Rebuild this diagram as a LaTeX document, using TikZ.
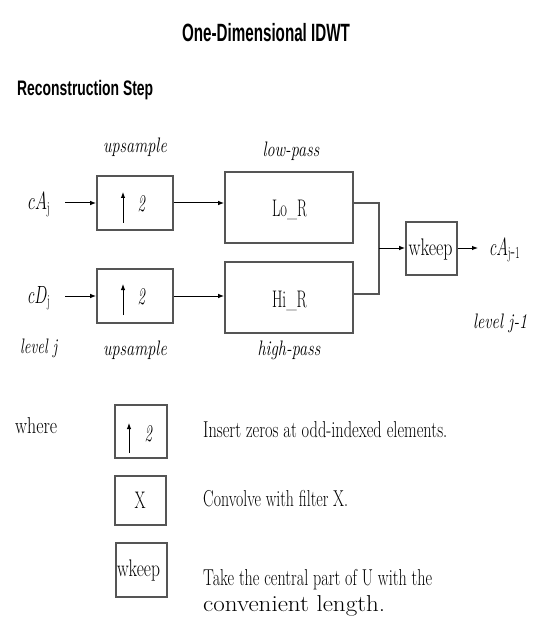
\documentclass[tikz,border=0pt]{standalone}
\usepackage{graphicx}
\usepackage{fontspec}
\newfontfamily\headfont{Liberation Sans}
\usetikzlibrary{arrows.meta}
% set a text to a given width, keeping its natural height
\newcommand{\fw}[2]{\resizebox{#1pt}{\height}{#2}}
\definecolor{boxgray}{HTML}{555555}
\tikzset{
  blk/.style={draw=boxgray, line width=1.6pt, rectangle, inner sep=0pt},
  arr/.style={-{Latex[length=6pt,width=4.5pt]}, line width=1pt, black},
  joinline/.style={draw=boxgray, line width=1.6pt},
  txt/.style={inner sep=0pt, font=\fontsize{21}{25}\selectfont},
  desc/.style={inner sep=0pt, font=\fontsize{23}{27}\selectfont},
  big/.style={inner sep=0pt, font=\fontsize{24}{28}\selectfont},
}
\begin{document}
\begin{tikzpicture}[x=1pt, y=-1pt]
\useasboundingbox (0,0) rectangle (532,617);

% headings
\node[inner sep=0pt, font=\headfont\bfseries\fontsize{25}{30}\selectfont] (title) at (266,33) {\fw{168}{One-Dimensional IDWT}};
\node[inner sep=0pt, anchor=west, font=\headfont\bfseries\fontsize{21}{25}\selectfont] (sub) at (17,90) {\fw{136}{Reconstruction Step}};

% blocks
\node[blk, minimum width=76pt, minimum height=54pt] (u1) at (135,203) {};
\node[blk, minimum width=76pt, minimum height=54pt] (u2) at (135,296) {};
\node[blk, minimum width=128pt, minimum height=71pt] (lo) at (289,207.5) {};
\node[blk, minimum width=128pt, minimum height=71pt] (hi) at (289,297.5) {};
\node[blk, minimum width=51pt, minimum height=53pt] (wk) at (431.5,248.5) {};

% block contents
\node[big, anchor=base] (u1n) at (141.5,212) {\fw{8}{\textit{2}}};
\node[big, anchor=base] (u2n) at (141.5,304) {\fw{8}{\textit{2}}};
\coordinate (u1a) at (123,223);
\coordinate (u1b) at (123,192);
\coordinate (u2a) at (123,315);
\coordinate (u2b) at (123,284);
\draw[arr] (u1a) -- (u1b);
\draw[arr] (u2a) -- (u2b);
\node[big, anchor=base] (lon) at (289.5,217) {\fw{35}{Lo\_R}};
\node[big, anchor=base] (hin) at (289.5,307) {\fw{35}{Hi\_R}};
\node[big, anchor=base] (wkn) at (430.5,256) {\fw{44}{wkeep}};

% signals
\node[big, anchor=base west] (ca) at (28,210) {\fw{22}{$cA_{\mathrm{j}}$}};
\node[big, anchor=base west] (cd) at (28,303) {\fw{22}{$cD_{\mathrm{j}}$}};
\node[big, anchor=base west] (cout) at (490,255) {\fw{30}{$cA_{\mathrm{j\mbox{-}1}}$}};
\coordinate (ain) at (65,203);
\coordinate (din) at (65,296);
\coordinate (oend) at (478,248);
\coordinate (ja) at (379,203);
\coordinate (jb) at (379,294);
\coordinate (jm) at (379,248);

\draw[arr] (ain) -- (u1.west |- ain);
\draw[arr] (din) -- (u2.west |- din);
\draw[arr] (u1.east |- ain) -- (lo.west |- ain);
\draw[arr] (u2.east |- din) -- (hi.west |- din);
\draw[joinline] (lo.east |- ja) -- (ja) -- (jb) -- (hi.east |- jb);
\draw[arr] (jm) -- (wk.west |- jm);
\draw[arr] (wk.east |- jm) -- (oend);

% stage labels
\node[txt, anchor=base] (l1) at (135,153) {\fw{64}{\textit{upsample}}};
\node[txt, anchor=base] (l2) at (291,157) {\fw{57}{\textit{low-pass}}};
\node[txt, anchor=base] (l3) at (135,355) {\fw{64}{\textit{upsample}}};
\node[txt, anchor=base] (l4) at (289,355) {\fw{63}{\textit{high-pass}}};
\node[txt, anchor=base west] (l5) at (20,353) {\fw{38}{\textit{level j}}};
\node[txt, anchor=base west] (l6) at (473,328) {\fw{54}{\textit{level j-1}}};

% legend
\node[desc, anchor=base west] (where) at (15,433) {\fw{42}{where}};
\node[blk, minimum width=52pt, minimum height=53pt] (g1) at (141,431.5) {};
\node[blk, minimum width=51pt, minimum height=49pt] (g2) at (140.5,500.5) {};
\node[blk, minimum width=51pt, minimum height=54pt] (g3) at (141.5,570) {};
\node[big, anchor=base] (g1n) at (148.5,441) {\fw{8}{\textit{2}}};
\coordinate (g1a) at (129,453);
\coordinate (g1b) at (129,423);
\draw[arr] (g1a) -- (g1b);
\node[big, anchor=base] (g2n) at (140,508) {\fw{11}{X}};
\node[big, anchor=base] (g3n) at (138.5,576) {\fw{43}{wkeep}};

\node[desc, anchor=base west] (d1) at (203,437) {\fw{244}{Insert zeros at odd-indexed elements.}};
\node[desc, anchor=base west] (d2) at (203,506) {\fw{145}{Convolve with filter X.}};
\node[desc, anchor=base west] (d3) at (203,585) {\fw{229}{Take the central part of U with the}};
\node[desc, anchor=base west] (d4) at (203,611) {\fw{182}{convenient length.}};
\end{tikzpicture}
\end{document}
